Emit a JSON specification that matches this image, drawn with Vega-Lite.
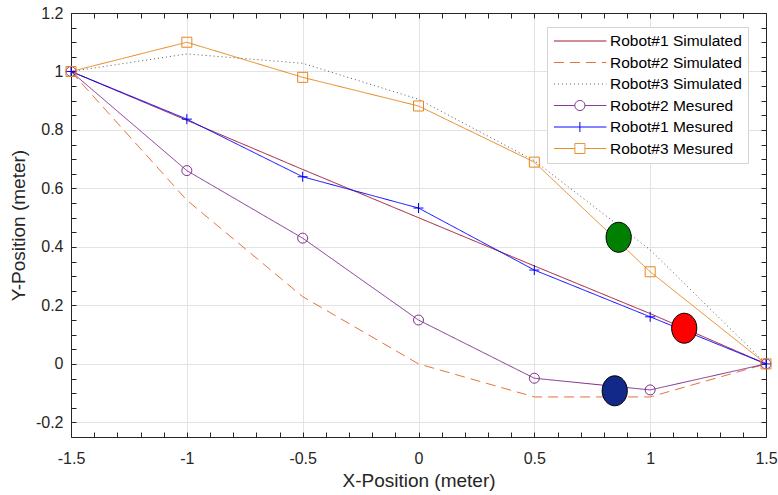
{
  "$schema": "https://vega.github.io/schema/vega-lite/v6.json",
  "width": 695,
  "height": 424,
  "autosize": "none",
  "padding": {"left": 71, "top": 13, "right": 12, "bottom": 58},
  "background": "white",
  "config": {
    "view": {"stroke": null},
    "font": "Liberation Sans",
    "axis": {
      "domainColor": "#262626",
      "tickColor": "#262626",
      "labelColor": "#262626",
      "titleColor": "#262626",
      "labelFontSize": 16,
      "titleFontSize": 19,
      "titleFontWeight": "normal",
      "tickSize": -5,
      "gridColor": "#e3e3e3",
      "labelFlush": false,
      "labelOverlap": false
    }
  },
  "datasets": {
    "paths": [
      {"series": "Robot#1 Simulated", "x": -1.5, "y": 1},
      {"series": "Robot#1 Simulated", "x": -1, "y": 0.833},
      {"series": "Robot#1 Simulated", "x": -0.5, "y": 0.665},
      {"series": "Robot#1 Simulated", "x": 0, "y": 0.5},
      {"series": "Robot#1 Simulated", "x": 0.5, "y": 0.335},
      {"series": "Robot#1 Simulated", "x": 1, "y": 0.172},
      {"series": "Robot#1 Simulated", "x": 1.5, "y": 0},
      {"series": "Robot#2 Simulated", "x": -1.5, "y": 1},
      {"series": "Robot#2 Simulated", "x": -1, "y": 0.56},
      {"series": "Robot#2 Simulated", "x": -0.5, "y": 0.23},
      {"series": "Robot#2 Simulated", "x": 0, "y": 0.0},
      {"series": "Robot#2 Simulated", "x": 0.5, "y": -0.113},
      {"series": "Robot#2 Simulated", "x": 1, "y": -0.113},
      {"series": "Robot#2 Simulated", "x": 1.5, "y": 0},
      {"series": "Robot#3 Simulated", "x": -1.5, "y": 1},
      {"series": "Robot#3 Simulated", "x": -1, "y": 1.06},
      {"series": "Robot#3 Simulated", "x": -0.5, "y": 1.028},
      {"series": "Robot#3 Simulated", "x": 0, "y": 0.905},
      {"series": "Robot#3 Simulated", "x": 0.5, "y": 0.695},
      {"series": "Robot#3 Simulated", "x": 1, "y": 0.39},
      {"series": "Robot#3 Simulated", "x": 1.5, "y": 0},
      {"series": "Robot#2 Mesured", "x": -1.5, "y": 1},
      {"series": "Robot#2 Mesured", "x": -1, "y": 0.661},
      {"series": "Robot#2 Mesured", "x": -0.5, "y": 0.43},
      {"series": "Robot#2 Mesured", "x": 0, "y": 0.15},
      {"series": "Robot#2 Mesured", "x": 0.5, "y": -0.049},
      {"series": "Robot#2 Mesured", "x": 1, "y": -0.089},
      {"series": "Robot#2 Mesured", "x": 1.5, "y": 0},
      {"series": "Robot#1 Mesured", "x": -1.5, "y": 1},
      {"series": "Robot#1 Mesured", "x": -1, "y": 0.837},
      {"series": "Robot#1 Mesured", "x": -0.5, "y": 0.64},
      {"series": "Robot#1 Mesured", "x": 0, "y": 0.533},
      {"series": "Robot#1 Mesured", "x": 0.5, "y": 0.321},
      {"series": "Robot#1 Mesured", "x": 1, "y": 0.161},
      {"series": "Robot#1 Mesured", "x": 1.5, "y": 0},
      {"series": "Robot#3 Mesured", "x": -1.5, "y": 1},
      {"series": "Robot#3 Mesured", "x": -1, "y": 1.1},
      {"series": "Robot#3 Mesured", "x": -0.5, "y": 0.98},
      {"series": "Robot#3 Mesured", "x": 0, "y": 0.882},
      {"series": "Robot#3 Mesured", "x": 0.5, "y": 0.69},
      {"series": "Robot#3 Mesured", "x": 1, "y": 0.315},
      {"series": "Robot#3 Mesured", "x": 1.5, "y": 0}
    ],
    "robots": [
      {"robot": "Robot#3", "x": 0.864, "y": 0.433},
      {"robot": "Robot#1", "x": 1.147, "y": 0.122},
      {"robot": "Robot#2", "x": 0.847, "y": -0.092}
    ]
  },
  "layer": [
    {
      "data": {"name": "paths"},
      "mark": {"type": "line", "strokeWidth": 1},
      "encoding": {
        "x": {
          "field": "x", "type": "quantitative",
          "scale": {"domain": [-1.5, 1.5], "nice": false, "zero": false},
          "axis": {
            "orient": "bottom",
            "title": "X-Position (meter)",
            "values": [-1.5,-1.4,-1.3,-1.2,-1.1,-1,-0.9,-0.8,-0.7,-0.6,-0.5,-0.4,-0.3,-0.2,-0.1,0,0.1,0.2,0.3,0.4,0.5,0.6,0.7,0.8,0.9,1,1.1,1.2,1.3,1.4,1.5],
            "labelExpr": "abs(datum.value*2-round(datum.value*2))<0.001 ? toString(datum.value) : ''",
            "labelPadding": 18,
            "titlePadding": 5,
            "grid": true,
            "gridOpacity": {"condition": {"test": "abs(datum.value*2-round(datum.value*2))<0.001", "value": 1}, "value": 0}
          }
        },
        "y": {
          "field": "y", "type": "quantitative",
          "scale": {"domain": [-0.25, 1.2], "nice": false, "zero": false},
          "axis": {
            "orient": "left",
            "title": "Y-Position (meter)",
            "values": [-0.2,-0.15,-0.1,-0.05,0,0.05,0.1,0.15,0.2,0.25,0.3,0.35,0.4,0.45,0.5,0.55,0.6,0.65,0.7,0.75,0.8,0.85,0.9,0.95,1,1.05,1.1,1.15,1.2],
            "labelExpr": "abs(datum.value*5-round(datum.value*5))<0.001 ? toString(datum.value) : ''",
            "labelPadding": 13,
            "titlePadding": 7,
            "grid": true,
            "gridOpacity": {"condition": {"test": "abs(datum.value*5-round(datum.value*5))<0.001", "value": 1}, "value": 0}
          }
        },
        "color": {
          "field": "series", "type": "nominal",
          "scale": {
            "domain": ["Robot#1 Simulated", "Robot#2 Simulated", "Robot#3 Simulated", "Robot#2 Mesured", "Robot#1 Mesured", "Robot#3 Mesured"],
            "range": ["#A2142F", "#E8733A", "#595959", "#7E2F8E", "#0000FF", "#E8861A"]
          },
          "legend": {
            "title": null,
            "orient": "none",
            "legendX": 476,
            "legendY": 14,
            "labelFontSize": 15.5,
            "labelColor": "#000000",
            "labelFont": "Liberation Sans",
            "symbolSize": 200,
            "symbolStrokeWidth": 1,
            "labelOffset": 41,
            "padding": 6,
            "rowPadding": 4.5,
            "strokeColor": "#d4d4d4",
            "fillColor": "white",
            "labelLimit": 300,
            "encode": {
              "symbols": {
                "update": {
                  "shape": {"signal": "datum.value === 'Robot#2 Mesured' ? 'M-1,0L1.96,0M3.38,0L6.42,0M1.96,0A0.707,0.707 0 1 1 3.38,0A0.707,0.707 0 1 1 1.96,0' : datum.value === 'Robot#1 Mesured' ? 'M-1,0L6.42,0M2.67,-0.707L2.67,0.707' : datum.value === 'Robot#3 Mesured' ? 'M-1,0L1.96,0M3.38,0L6.42,0M1.96,-0.707L3.38,-0.707L3.38,0.707L1.96,0.707Z' : 'M-1,0L6.42,0'"},
                  "fill": {"value": "transparent"},
                  "strokeWidth": {"value": 1}
                }
              }
            }
          }
        },
        "strokeDash": {
          "field": "series", "type": "nominal",
          "scale": {
            "domain": ["Robot#1 Simulated", "Robot#2 Simulated", "Robot#3 Simulated", "Robot#2 Mesured", "Robot#1 Mesured", "Robot#3 Mesured"],
            "range": [[1, 0], [10, 6], [1, 3], [1, 0], [1, 0], [1, 0]]
          }
        }
      }
    },
    {
      "data": {"name": "paths"},
      "transform": [{"filter": "indexof(datum.series, 'Mesured') >= 0"}],
      "mark": {"type": "point", "filled": false, "strokeWidth": 1, "size": 100, "opacity": 1},
      "encoding": {
        "x": {"field": "x", "type": "quantitative", "axis": null},
        "y": {"field": "y", "type": "quantitative", "axis": null},
        "color": {"field": "series", "type": "nominal"},
        "shape": {
          "field": "series", "type": "nominal",
          "scale": {
            "domain": ["Robot#2 Mesured", "Robot#1 Mesured", "Robot#3 Mesured"],
            "range": ["circle", "M-1,0L1,0M0,-1L0,1", "square"]
          },
          "legend": null
        }
      }
    },
    {
      "data": {"name": "robots"},
      "mark": {
        "type": "point",
        "shape": "M-0.84,0A0.84,1 0 1 1 0.84,0A0.84,1 0 1 1 -0.84,0Z",
        "size": 900,
        "filled": true,
        "stroke": "#000000",
        "strokeWidth": 1,
        "opacity": 1
      },
      "encoding": {
        "x": {
          "field": "x", "type": "quantitative",
          "axis": {
            "orient": "top", "title": null, "labels": false, "grid": false,
            "values": [-1.5,-1.4,-1.3,-1.2,-1.1,-1,-0.9,-0.8,-0.7,-0.6,-0.5,-0.4,-0.3,-0.2,-0.1,0,0.1,0.2,0.3,0.4,0.5,0.6,0.7,0.8,0.9,1,1.1,1.2,1.3,1.4,1.5]
          }
        },
        "y": {
          "field": "y", "type": "quantitative",
          "axis": {
            "orient": "right", "title": null, "labels": false, "grid": false,
            "values": [-0.2,-0.15,-0.1,-0.05,0,0.05,0.1,0.15,0.2,0.25,0.3,0.35,0.4,0.45,0.5,0.55,0.6,0.65,0.7,0.75,0.8,0.85,0.9,0.95,1,1.05,1.1,1.15,1.2]
          }
        },
        "fill": {
          "field": "robot", "type": "nominal",
          "scale": {"domain": ["Robot#3", "Robot#1", "Robot#2"], "range": ["#008000", "#FF0000", "#13298A"]},
          "legend": null
        }
      }
    }
  ],
  "resolve": {"axis": {"x": "independent", "y": "independent"}}
}
